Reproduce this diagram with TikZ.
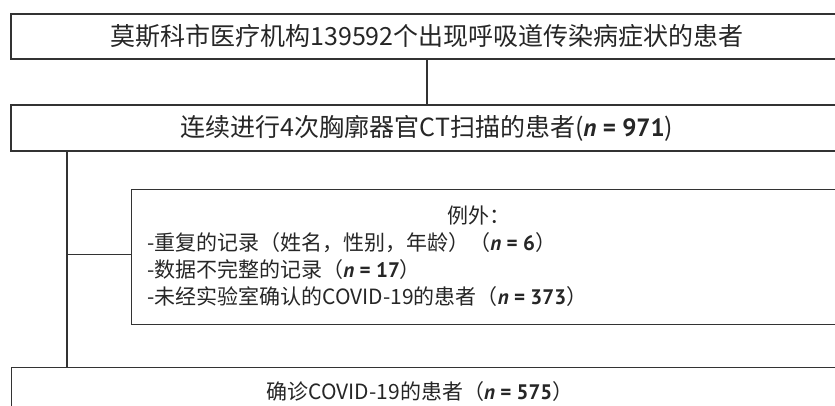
\documentclass[tikz,border=0pt]{standalone}
\usepackage{fontspec}
\setmainfont{Noto Sans CJK SC}
\newfontfamily\numfont{PT Sans}
\newcommand{\nval}[1]{{\numfont\bfseries\itshape n}{\numfont\bfseries\ =\ #1}}
\begin{document}
\begin{tikzpicture}[x=1pt,y=-1pt,
  box/.style={draw=black!80,line width=1.2pt,rectangle,inner sep=0pt,text=black!85},
  conn/.style={draw=black!80,line width=1.2pt},
  lbl/.style={inner sep=0pt,text=black!85,font=\fontsize{21}{24}\selectfont}]
\clip (0,0) rectangle (835,406);
\node[box,minimum width=832pt,minimum height=45pt,font=\fontsize{25}{28}\selectfont] (b1) at (427,36.5) {莫斯科市医疗机构139592个出现呼吸道传染病症状的患者};
\node[box,minimum width=832pt,minimum height=46pt,font=\fontsize{25}{28}\selectfont] (b2) at (427,128) {连续进行4次胸廓器官CT扫描的患者(\nval{971})};
\node[box,anchor=north west,minimum width=720pt,minimum height=135pt] (ex) at (131,189) {};
\node[lbl] (t0) at (479,216) {例外：};
\node[lbl,anchor=west] (t1) at (147,243) {-重复的记录（姓名，性别，年龄）（\nval{6}）};
\node[lbl,anchor=west] (t2) at (147,270) {-数据不完整的记录（\nval{17}）};
\node[lbl,anchor=west] (t3) at (147,297) {-未经实验室确认的COVID-19的患者（\nval{373}）};
\node[box,anchor=north west,minimum width=832pt,minimum height=50pt] (b4) at (11,367) {};
\node[lbl] (t4) at (420,392) {确诊COVID-19的患者（\nval{575}）};
\coordinate (lx) at (67,0);
\draw[conn] (b1.south) -- (b2.north);
\draw[conn] (b2.south -| lx) -- (b4.north -| lx);
\draw[conn] ([yshift=2.5pt]ex.west) -- ([yshift=2.5pt]ex.west -| lx);
\end{tikzpicture}
\end{document}
